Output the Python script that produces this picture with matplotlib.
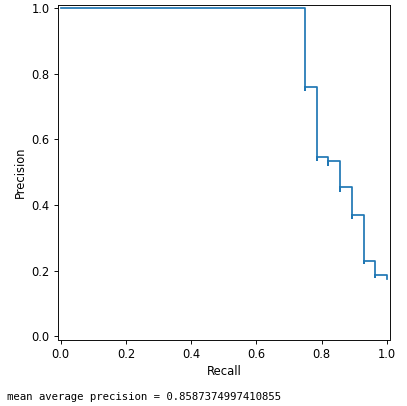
import matplotlib
import matplotlib.pyplot as plt

plt.switch_backend('Agg')

# corner points of the precision-recall curve, in order of rising recall
recall = [0.0, 0.75, 0.75, 0.786, 0.786, 0.821, 0.821, 0.857, 0.857,
          0.893, 0.893, 0.929, 0.929, 0.964, 0.964, 1.0, 1.0]
precision = [1.0, 1.0, 0.75, 0.759, 0.537, 0.548, 0.523, 0.533, 0.444,
             0.455, 0.362, 0.371, 0.222, 0.229, 0.182, 0.188, 0.174]
mean_ap = 0.8587374997410855

dpi = 83
fig = plt.figure(figsize=(407/dpi, 406/dpi), dpi=dpi)
ax = fig.add_axes([57.5/407, 1-339.5/406, 332.5/407, 334.5/406])
ax.plot(recall, precision, drawstyle='steps-pre', color='C0')
ax.set_xlim(-0.01, 1.01)
ax.set_ylim(-0.01, 1.01)
ax.set_xlabel("Recall")
ax.set_ylabel("Precision")

fig.text(7/407, 1-397/406, f"mean average precision = {mean_ap}",
         family='DejaVu Sans Mono', fontsize=9.2, va='center', ha='left')
plt.savefig("out.png", dpi=dpi)
